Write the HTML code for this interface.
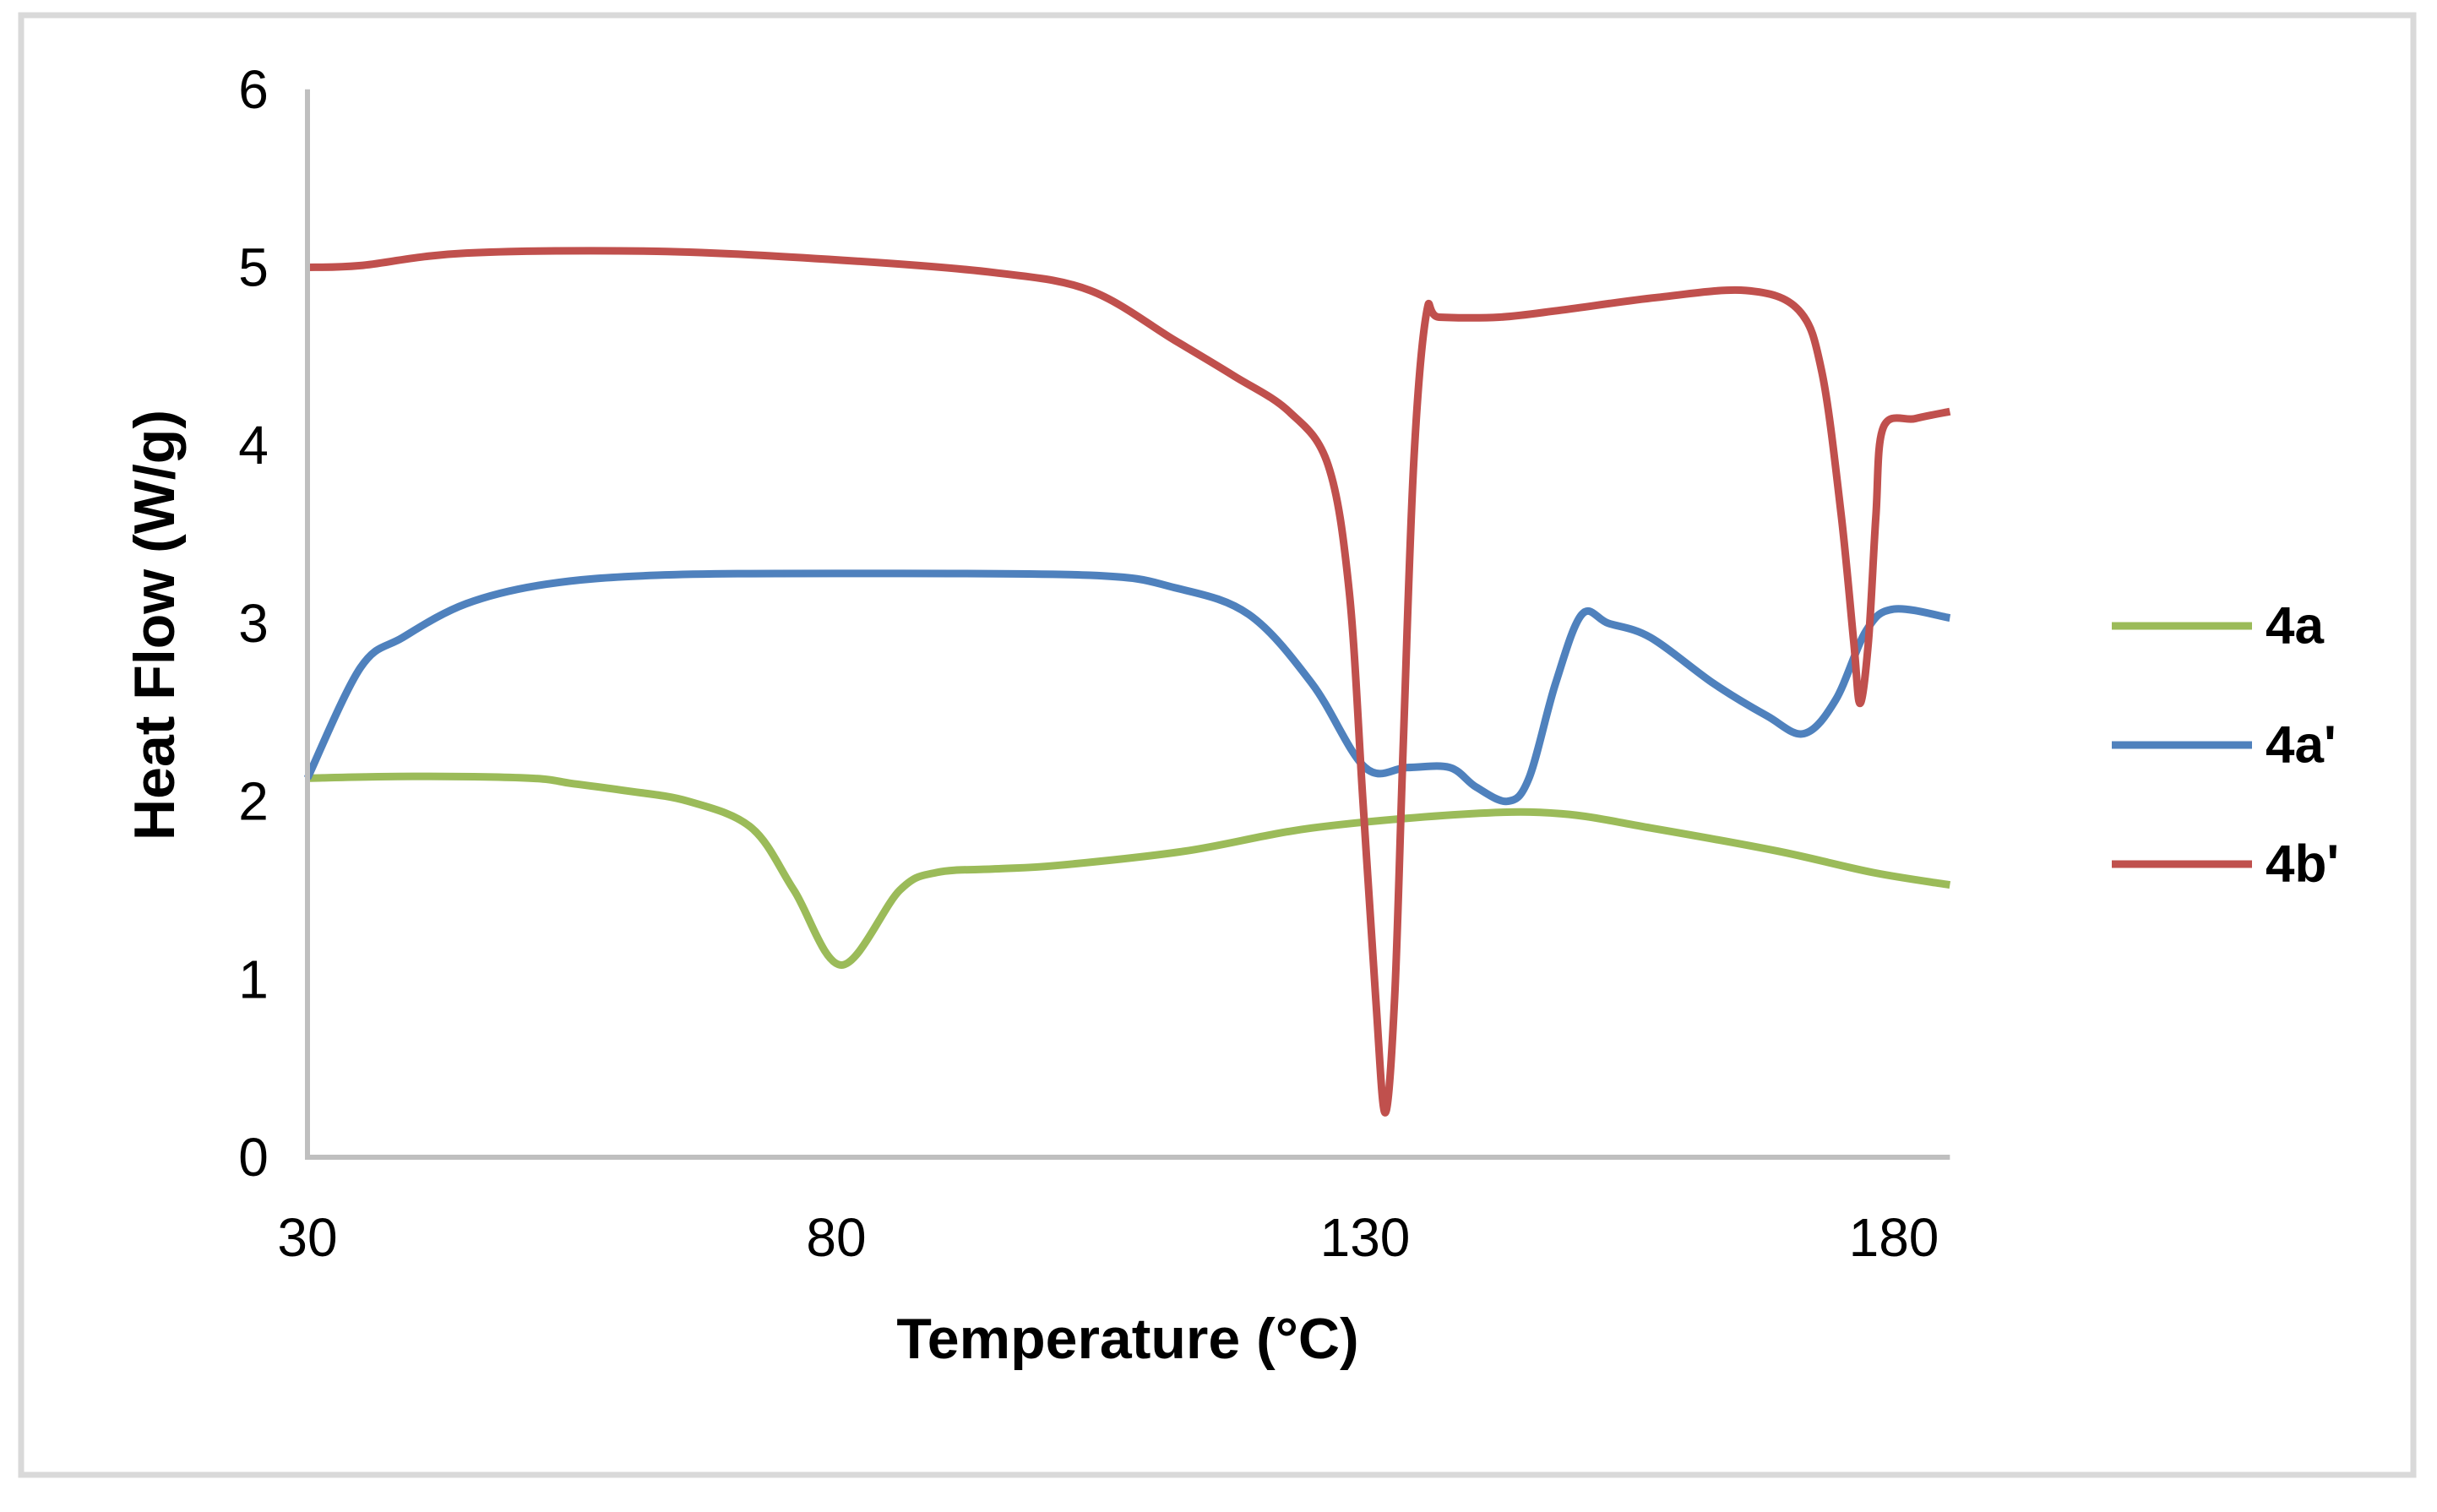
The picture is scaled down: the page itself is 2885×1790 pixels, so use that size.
<!DOCTYPE html>
<html><head><meta charset="utf-8"><style>
html,body{margin:0;padding:0;background:#fff}
svg{display:block;font-family:"Liberation Sans",sans-serif}
</style></head><body>
<svg id="chart" width="2885" height="1790" viewBox="0 0 2885 1790">
<rect x="25" y="18" width="2832" height="1728" fill="#fff" stroke="#d9d9d9" stroke-width="7"/>
<g id="plot"></g>
<g id="axes"></g>
<text x="188" y="740" transform="rotate(-90 188 740)" text-anchor="middle" dominant-baseline="middle" font-size="68" font-weight="bold">Heat Flow (W/g)</text>
<text x="1335" y="1608" text-anchor="middle" font-size="68" font-weight="bold">Temperature (°C)</text>
<g id="legend"></g>
</svg>
<script>
const xTicks=[30,80,130,180];
const yTicks=[0,1,2,3,4,5,6];
const seriesNames=["4a","4a'","4b'"];
const seriesColors=["#9bbb59","#4f81bd","#c0504d"];
const t4a=[30,40,51,55,60,66,72,76,80.5,86,89.5,95,101,113,125,140,148.6,157,169,178,185.3];
const v4a=[2.13,2.14,2.13,2.1,2.06,2.0,1.85,1.5,1.08,1.5,1.6,1.62,1.64,1.72,1.85,1.93,1.93,1.85,1.72,1.6,1.53];
const t4ap=[30,35,39,45,52.6,63,80,104,112,119,125,130,134,138,140.5,143.5,145.5,148,150.5,153,157,163,168,171.5,174.5,177.4,180,185.3];
const v4ap=[2.13,2.75,2.92,3.11,3.22,3.27,3.28,3.27,3.2,3.05,2.66,2.19,2.19,2.19,2.08,2.0,2.13,2.66,3.05,3.0,2.92,2.66,2.48,2.38,2.57,2.96,3.08,3.03];
const t4bp=[30,35,45,63,80.6,95,104,112,117.6,122.8,126.5,128.5,129.8,131,131.9,132.8,133.6,134.6,135.8,137,142.7,148.6,157.5,166,171,173.2,175,176.2,176.8,177.6,178.3,179,182,185.3];
const v4bp=[5.0,5.01,5.08,5.09,5.04,4.97,4.87,4.59,4.39,4.19,3.89,3.18,2.0,0.9,0.25,0.9,2.3,3.9,4.74,4.72,4.72,4.76,4.83,4.87,4.76,4.41,3.62,2.9,2.55,2.9,3.6,4.1,4.15,4.19];
const X0=364,XPU=12.52,XMIN=30,XMAX=185.3;
const Y0=1370,YPU=210.7;
function sx(t){return X0+(t-XMIN)*XPU;}
function sy(v){return Y0-v*YPU;}
const NS="http://www.w3.org/2000/svg";
function mk(tag,attrs,parent){const e=document.createElementNS(NS,tag);for(const k in attrs)e.setAttribute(k,attrs[k]);parent.appendChild(e);return e;}
const axes=document.getElementById('axes');
let ya=mk('line',{x1:sx(XMIN),y1:sy(6),x2:sx(XMIN),y2:sy(0)+3,stroke:'#bfbfbf','stroke-width':6},axes);


let xa=mk('line',{x1:sx(XMIN)-3,y1:sy(0),x2:sx(XMAX),y2:sy(0),stroke:'#bfbfbf','stroke-width':6},axes);


yTicks.forEach(v=>{
  const t=mk('text',{x:300,y:sy(v),'text-anchor':'middle','dominant-baseline':'central','font-size':64},axes);
  t.textContent=v;
  
  
});
xTicks.forEach(v=>{
  const t=mk('text',{x:sx(v),y:1465,'text-anchor':'middle','dominant-baseline':'central','font-size':64},axes);
  t.textContent=v;
  
  
});
function pathFor(ts,vs){
  const p=ts.map((t,i)=>[sx(t),sy(vs[i])]);
  let d='M'+p[0][0]+','+p[0][1];
  for(let i=0;i<p.length-1;i++){
    const a=p[i-1]||p[i],b=p[i],c=p[i+1],e=p[i+2]||c;
    const c1=[b[0]+(c[0]-a[0])/6,b[1]+(c[1]-a[1])/6];
    const c2=[c[0]-(e[0]-b[0])/6,c[1]-(e[1]-b[1])/6];
    d+=' C'+c1[0]+','+c1[1]+' '+c2[0]+','+c2[1]+' '+c[0]+','+c[1];
  }
  return d;
}
const plot=document.getElementById('plot');
const data=[[t4a,v4a],[t4ap,v4ap],[t4bp,v4bp]];
const lineNames=['line-4a','line-4a-prime','line-4b-prime'];
data.forEach((s,i)=>{
  const p=mk('path',{d:pathFor(s[0],s[1]),fill:'none',stroke:seriesColors[i],'stroke-width':9,'stroke-linejoin':'round','stroke-linecap':'butt'},plot);
  
  
});
const legend=document.getElementById('legend');
const ly=[741,882,1023];
seriesNames.forEach((n,i)=>{
  const l=mk('line',{x1:2500,y1:ly[i],x2:2666,y2:ly[i],stroke:seriesColors[i],'stroke-width':9},legend);
  
  
  const t=mk('text',{x:2682,y:ly[i],'dominant-baseline':'central','font-size':62,'font-weight':'bold'},legend);
  t.textContent=n;
  
  
});
</script>
</body></html>
